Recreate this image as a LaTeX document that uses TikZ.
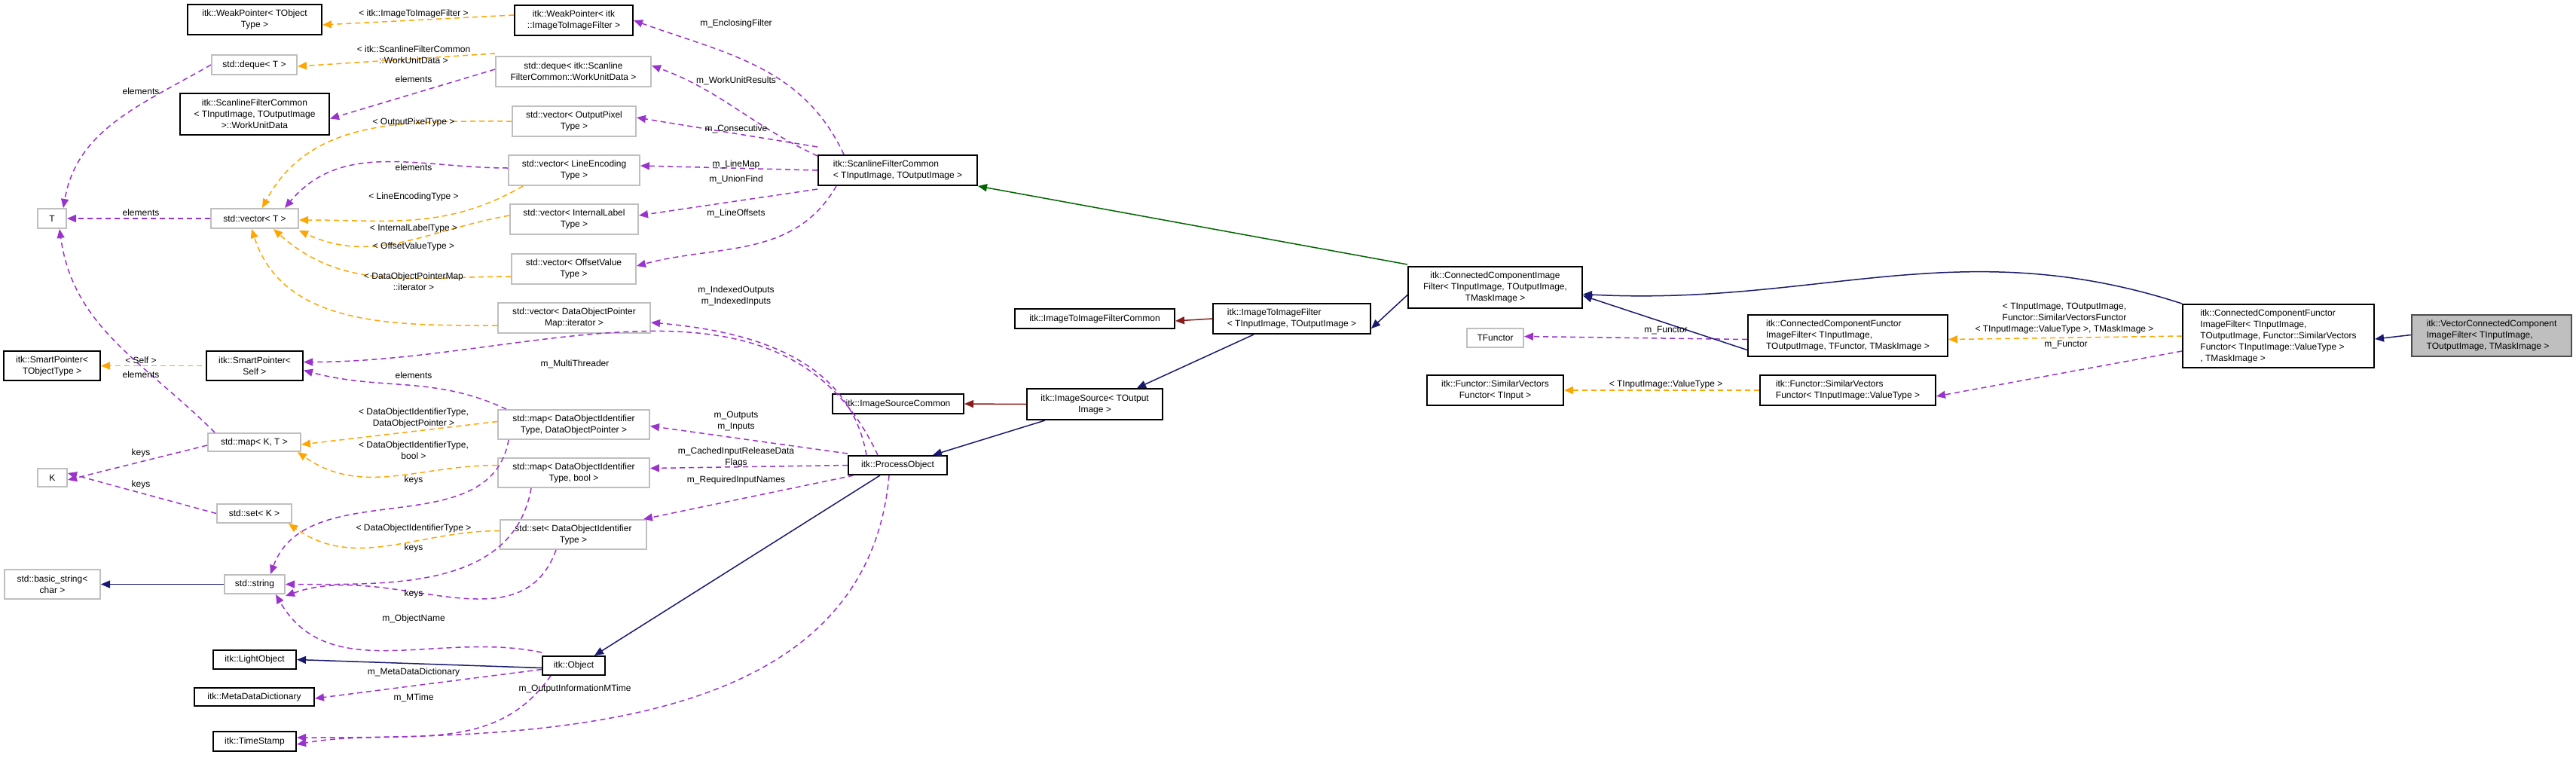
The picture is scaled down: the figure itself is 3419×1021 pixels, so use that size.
\documentclass[tikz,border=0pt]{standalone}
\usepackage{fontspec}
\setmainfont{Liberation Sans}
\usetikzlibrary{arrows.meta}
\definecolor{usec}{HTML}{9A32CD}
\definecolor{tmpl}{HTML}{FFA500}
\definecolor{inh}{HTML}{191970}
\definecolor{prot}{HTML}{006400}
\definecolor{priv}{HTML}{8B1A1A}
\definecolor{gbord}{HTML}{BFBFBF}
\newcommand{\bx}[7]{\node[#6, minimum width={(#4-#2)*1pt}, minimum height={(#5-#3)*1pt}] (#1) at ({(#2+#4)/2},{(#3+#5)/2}) {#7};}
\begin{document}
\begin{tikzpicture}[x=1pt,y=-1pt,
  every node/.style={font=\fontsize{12}{15}\selectfont, inner sep=0pt, align=center},
  doc/.style={draw=black, line width=2pt, fill=white},
  und/.style={draw=gbord, line width=2pt, fill=white},
  cur/.style={draw=black!70, line width=2pt, fill=gbord},
  lbl/.style={fill=none},
  ar/.style={-{Triangle[length=12pt,width=10pt]}, line width=1.5pt},
  u/.style={ar, draw=usec, dash pattern=on 7pt off 5pt},
  t/.style={ar, draw=tmpl, dash pattern=on 7pt off 5pt},
  i/.style={ar, draw=inh},
  p/.style={ar, draw=prot},
  v/.style={ar, draw=priv}]
\useasboundingbox (0,0) rectangle (3419,1021);
% nodes
\bx{wpT}{249}{6}{427}{46}{doc}{itk::WeakPointer< TObject\\Type >}
\bx{wpI}{683}{7}{840}{47}{doc}{itk::WeakPointer< itk\\::ImageToImageFilter >}
\bx{dqT}{281}{73}{394}{99}{und}{std::deque< T >}
\bx{dqW}{658}{75}{864}{115}{und}{std::deque< itk::Scanline\\FilterCommon::WorkUnitData >}
\bx{sfwu}{239}{124}{437}{179}{doc}{itk::ScanlineFilterCommon\\< TInputImage, TOutputImage\\ >::WorkUnitData}
\bx{vOP}{680}{141}{844}{181}{und}{std::vector< OutputPixel\\Type >}
\bx{vLE}{675}{206}{849}{246}{und}{std::vector< LineEncoding\\Type >}
\bx{T}{50}{277}{88}{303}{und}{T}
\bx{vT}{280}{277}{396}{303}{und}{std::vector< T >}
\bx{vIL}{677}{271}{847}{311}{und}{std::vector< InternalLabel\\Type >}
\bx{vOV}{679}{337}{844}{377}{und}{std::vector< OffsetValue\\Type >}
\bx{vDOP}{661}{402}{863}{442}{und}{std::vector< DataObjectPointer\\Map::iterator >}
\bx{spT}{5}{466}{133}{505}{doc}{itk::SmartPointer<\\TObjectType >}
\bx{spS}{274}{466}{402}{505}{doc}{itk::SmartPointer<\\Self >}
\bx{mDOP}{661}{544}{862}{583}{und}{std::map< DataObjectIdentifier\\Type, DataObjectPointer >}
\bx{mKT}{276}{575}{399}{599}{und}{std::map< K, T >}
\bx{mB}{661}{608}{862}{647}{und}{std::map< DataObjectIdentifier\\Type, bool >}
\bx{K}{50}{622}{89}{646}{und}{K}
\bx{sK}{288}{669}{387}{694}{und}{std::set< K >}
\bx{sDOI}{664}{690}{858}{729}{und}{std::set< DataObjectIdentifier\\Type >}
\bx{bstr}{6}{756}{133}{795}{und}{std::basic\_string<\\char >}
\bx{str}{298}{763}{378}{788}{und}{std::string}
\bx{lo}{283}{863}{393}{888}{doc}{itk::LightObject}
\bx{obj}{720}{871}{803}{896}{doc}{itk::Object}
\bx{mdd}{258}{913}{417}{937}{doc}{itk::MetaDataDictionary}
\bx{ts}{283}{971}{393}{997}{doc}{itk::TimeStamp}
\bx{sfc}{1086}{206}{1297}{246}{doc,align=left}{itk::ScanlineFilterCommon\\< TInputImage, TOutputImage >}
\bx{ccif}{1869}{354}{2100}{409}{doc}{itk::ConnectedComponentImage\\Filter< TInputImage, TOutputImage,\\TMaskImage >}
\bx{itif}{1610}{403}{1819}{443}{doc,align=left}{itk::ImageToImageFilter\\< TInputImage, TOutputImage >}
\bx{itifc}{1347}{410}{1559}{436}{doc}{itk::ImageToImageFilterCommon}
\bx{tf}{1947}{436}{2022}{461}{und}{TFunctor}
\bx{isrc}{1363}{516}{1543}{557}{doc}{itk::ImageSource< TOutput\\Image >}
\bx{isc}{1105}{523}{1279}{549}{doc}{itk::ImageSourceCommon}
\bx{po}{1126}{605}{1257}{630}{doc}{itk::ProcessObject}
\bx{fsT}{1894}{498}{2075}{538}{doc}{itk::Functor::SimilarVectors\\Functor< TInput >}
\bx{ccf}{2320}{418}{2585}{473}{doc,align=left}{itk::ConnectedComponentFunctor\\ImageFilter< TInputImage,\\ TOutputImage, TFunctor, TMaskImage >}
\bx{fsV}{2336}{498}{2569}{538}{doc,align=left}{itk::Functor::SimilarVectors\\Functor< TInputImage::ValueType >}
\bx{ccfsv}{2897}{404}{3151}{488}{doc,align=left}{itk::ConnectedComponentFunctor\\ImageFilter< TInputImage,\\ TOutputImage, Functor::SimilarVectors\\Functor< TInputImage::ValueType >\\ , TMaskImage >}
\bx{vcc}{3201}{418}{3413}{473}{cur,align=left}{itk::VectorConnectedComponent\\ImageFilter< TInputImage,\\ TOutputImage, TMaskImage >}
% usage edges
\draw[u] ([xshift=35]sfc.north west) to[out=115,in=-20] (wpI.east);
\draw[u] ([yshift=-2]sfc.north west) to[out=155,in=-20] ([yshift=8]dqW.east);
\draw[u] ([yshift=10]sfc.north west) -- ([yshift=5]vOP.east);
\draw[u] (sfc.west) -- ([yshift=6]vLE.east);
\draw[u] ([yshift=-4]sfc.south west) -- ([yshift=5]vIL.east);
\draw[u] ([xshift=25]sfc.south west) to[out=-120,in=15] ([yshift=4]vOV.east);
\draw[u] ([yshift=3]dqW.west) -- ([yshift=-6]sfwu.east);
\draw[u] (dqT.west) to[out=-150,in=80] ([xshift=15]T.north);
\draw[u] (vT.west) -- (T.east);
\draw[u] ([yshift=3]vLE.west) to[out=180,in=50] ([xshift=40]vT.north);
\draw[u] ([xshift=10]mKT.north west) to[out=135,in=-82] ([xshift=10]T.south);
\draw[u] ([xshift=12]mDOP.north west) to[out=155,in=-15] ([yshift=-6]spS.east);
\draw[u] ([xshift=40]po.north west) to[out=115,in=0] ([yshift=5]spS.east);
\draw[u] ([xshift=25]po.north west) to[out=100,in=-5] ([yshift=-6]vDOP.east);
\draw[u] ([yshift=2]po.north west) -- ([yshift=-2]mDOP.east);
\draw[u] (po.west) -- ([yshift=6]mB.east);
\draw[u] ([xshift=8]po.south west) -- ([xshift=-5]sDOI.north east);
\draw[u] ([yshift=-4]mKT.west) -- ([yshift=-3]K.east);
\draw[u] (sK.west) -- ([yshift=6]K.east);
\draw[u] ([xshift=15]mDOP.south west) to[out=-100,in=70] ([xshift=-20]str.north east);
\draw[u] ([xshift=45]mB.south west) to[out=-100,in=0] (str.east);
\draw[u] ([xshift=75]sDOI.south west) to[out=-110,in=20] ([yshift=-2]str.south east);
\draw[u] ([yshift=4]obj.north west) to[out=168,in=-60] ([xshift=-13]str.south east);
\draw[u] ([yshift=-5]obj.west) -- ([yshift=-2]mdd.east);
\draw[u] ([xshift=12]obj.south west) to[out=-125,in=10] ([yshift=-4]ts.east);
\draw[u] ([xshift=55]po.south west) to[out=-95,in=0] ([yshift=5]ts.east);
\draw[u] ([yshift=-5]ccf.west) -- ([yshift=2]tf.east);
\draw[u] ([yshift=-20]ccfsv.west) -- ([yshift=-8]fsV.east);
% template edges
\draw[t] ([yshift=7]wpI.west) -- ([yshift=-7]wpT.east);
\draw[t] ([yshift=3]dqW.north west) -- ([yshift=-2]dqT.east);
\draw[t] (vOP.west) to[out=180,in=62] ([xshift=10]vT.north);
\draw[t] ([xshift=20]vLE.south west) to[out=-150,in=0] ([yshift=-2]vT.east);
\draw[t] ([yshift=5]vIL.west) to[out=-170,in=-25] ([yshift=-2]vT.south east);
\draw[t] ([yshift=-10]vOV.west) to[out=180,in=-42] ([xshift=25]vT.south);
\draw[t] ([yshift=-10]vDOP.west) to[out=180,in=-72] ([xshift=-4]vT.south);
\draw[t] ([xshift=-5]spS.west) -- (spT.east);
\draw[t] ([yshift=4]mDOP.west) -- ([yshift=-3]mKT.east);
\draw[t] ([yshift=10]mB.west) to[out=180,in=-35] ([xshift=-5]mKT.south east);
\draw[t] ([yshift=5]sDOI.west) to[out=180,in=-35] ([xshift=-5]sK.south east);
\draw[t] (fsV.west) -- (fsT.east);
\draw[t] (ccfsv.west) -- ([yshift=-5]ccf.east);
% inheritance edges
\draw[p] ([yshift=2]ccif.north west) -- (sfc.south east);
\draw[i] ([yshift=-10]ccif.west) -- ([yshift=-13]itif.east);
\draw[v] (itif.west) -- ([yshift=-3]itifc.east);
\draw[i] ([xshift=55]itif.south west) -- ([xshift=-35]isrc.north east);
\draw[v] (isrc.west) -- (isc.east);
\draw[i] ([xshift=25]isrc.south west) -- ([xshift=-20]po.north east);
\draw[i] ([xshift=43]po.south west) -- ([xshift=-15]obj.north east);
\draw[i] ([yshift=-3]obj.west) -- (lo.east);
\draw[i] (str.west) -- (bstr.east);
\draw[i] ([yshift=-19]ccf.west) -- ([yshift=-11]ccif.east);
\draw[i] (ccfsv.north west) to[out=162,in=-3] ([yshift=-9]ccif.east);
\draw[i] ([yshift=1]vcc.west) -- ([yshift=-4]ccfsv.east);
% labels
\node[lbl] (l1) at (549,18) {< itk::ImageToImageFilter >};
\node[lbl] (l2) at (977,31) {m\_EnclosingFilter};
\node[lbl] (l3) at (549,73) {< itk::ScanlineFilterCommon\\::WorkUnitData >};
\node[lbl] (l4) at (549,105) {elements};
\node[lbl] (l5) at (187,121) {elements};
\node[lbl] (l6) at (977,107) {m\_WorkUnitResults};
\node[lbl] (l7) at (549,162) {< OutputPixelType >};
\node[lbl] (l8) at (977,171) {m\_Consecutive};
\node[lbl] (l9) at (549,222) {elements};
\node[lbl] (l10) at (977,218) {m\_LineMap};
\node[lbl] (l11) at (977,238) {m\_UnionFind};
\node[lbl] (l12) at (549,261) {< LineEncodingType >};
\node[lbl] (l13) at (187,282) {elements};
\node[lbl] (l14) at (977,283) {m\_LineOffsets};
\node[lbl] (l15) at (549,303) {< InternalLabelType >};
\node[lbl] (l16) at (549,327) {< OffsetValueType >};
\node[lbl] (l17) at (549,374) {< DataObjectPointerMap\\::iterator >};
\node[lbl] (l18) at (977,393) {m\_IndexedOutputs\\m\_IndexedInputs};
\node[lbl] (l19) at (187,478) {< Self >};
\node[lbl] (l20) at (763,483) {m\_MultiThreader};
\node[lbl] (l21) at (187,497) {elements};
\node[lbl] (l22) at (549,498) {elements};
\node[lbl] (l23) at (549,555) {< DataObjectIdentifierType,\\DataObjectPointer >};
\node[lbl] (l24) at (977,559) {m\_Outputs\\m\_Inputs};
\node[lbl] (l25) at (549,598) {< DataObjectIdentifierType,\\bool >};
\node[lbl] (l26) at (977,607) {m\_CachedInputReleaseData\\Flags};
\node[lbl] (l27) at (187,601) {keys};
\node[lbl] (l28) at (187,643) {keys};
\node[lbl] (l29) at (549,637) {keys};
\node[lbl] (l30) at (977,637) {m\_RequiredInputNames};
\node[lbl] (l31) at (549,701) {< DataObjectIdentifierType >};
\node[lbl] (l32) at (549,727) {keys};
\node[lbl] (l33) at (549,788) {keys};
\node[lbl] (l34) at (549,821) {m\_ObjectName};
\node[lbl] (l35) at (549,892) {m\_MetaDataDictionary};
\node[lbl] (l36) at (763,914) {m\_OutputInformationMTime};
\node[lbl] (l37) at (549,926) {m\_MTime};
\node[lbl] (l38) at (2211,439) {m\_Functor};
\node[lbl] (l39) at (2211,510) {< TInputImage::ValueType >};
\node[lbl] (l40) at (2740,423) {< TInputImage, TOutputImage,\\Functor::SimilarVectorsFunctor\\< TInputImage::ValueType >, TMaskImage >};
\node[lbl] (l41) at (2742,458) {m\_Functor};
\end{tikzpicture}
\end{document}
